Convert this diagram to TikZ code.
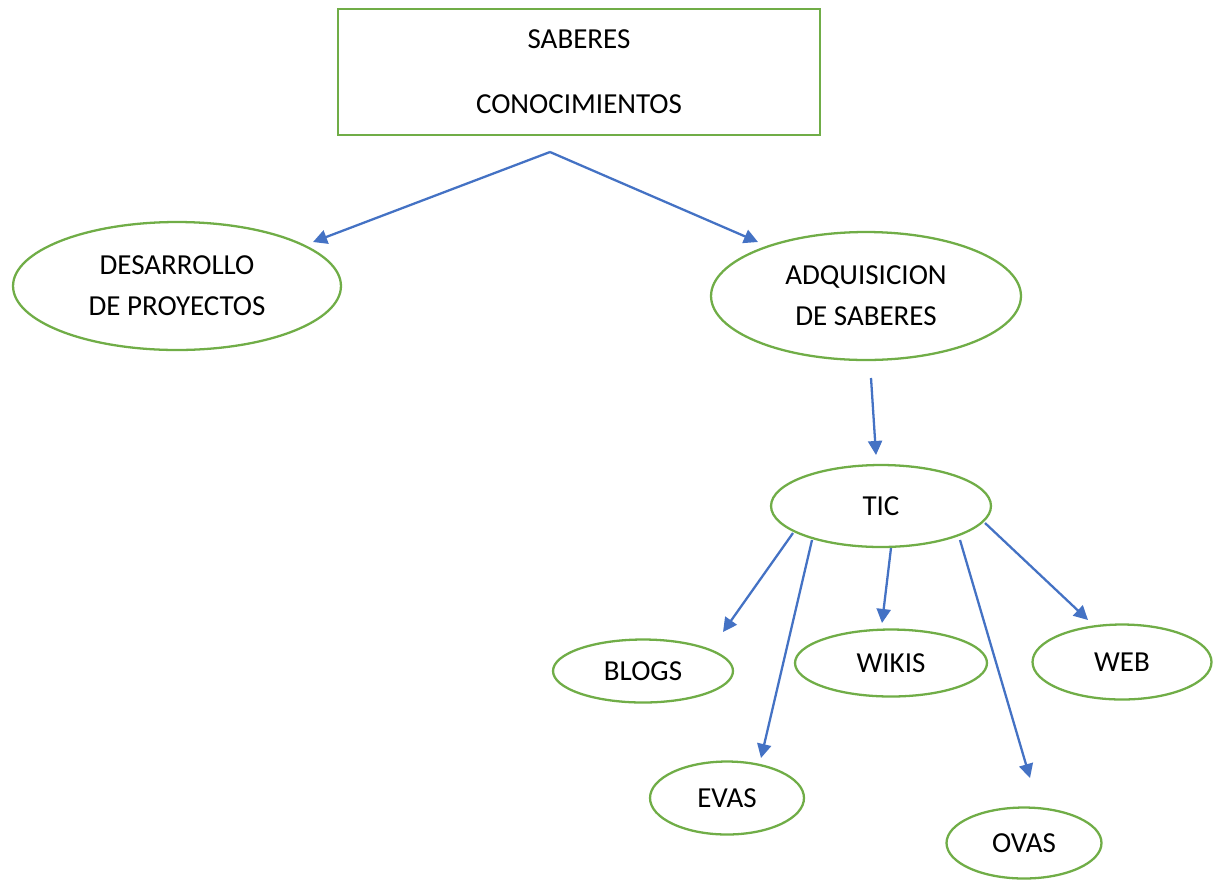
\documentclass[tikz,border=0pt]{standalone}
\usepackage{fontspec}
\setmainfont{Carlito}
\usetikzlibrary{shapes.geometric,arrows.meta}
\definecolor{verde}{HTML}{70AD47}
\definecolor{azul}{HTML}{4472C4}

\begin{document}
\begin{tikzpicture}[x=0.02cm, y=-0.02cm]
\tikzset{caja/.style={draw=verde, line width=1.3pt, rectangle, inner sep=0pt, align=center,
    font=\fontsize{16.5}{20}\selectfont},
  globo/.style={draw=verde, line width=1.3pt, ellipse, inner sep=0pt, align=center,
    font=\fontsize{16.5}{23.5}\selectfont},
  flecha/.style={draw=azul, line width=1.3pt, -{Triangle[length=8pt,width=8pt]}}}
\useasboundingbox (0,0) rectangle (1219,880);
\node[caja, minimum width=9.64cm, minimum height=2.52cm] (saberes) at (579,72) {SABERES\\[17pt]CONOCIMIENTOS};
\node[globo, minimum width=6.56cm, minimum height=2.56cm] (desarrollo) at (177,286) {DESARROLLO\\DE PROYECTOS};
\node[globo, minimum width=6.2cm, minimum height=2.56cm] (adquisicion) at (866,296) {ADQUISICION\\DE SABERES};
\node[globo, minimum width=4.4cm, minimum height=1.64cm] (tic) at (881,506) {TIC};
\node[globo, minimum width=3.6cm, minimum height=1.26cm] (blogs) at (643,671) {BLOGS};
\node[globo, minimum width=3.84cm, minimum height=1.34cm] (wikis) at (891,663) {WIKIS};
\node[globo, minimum width=3.58cm, minimum height=1.5cm] (web) at (1122,662) {WEB};
\node[globo, minimum width=3.08cm, minimum height=1.46cm] (evas) at (727,798) {EVAS};
\node[globo, minimum width=3.1cm, minimum height=1.42cm] (ovas) at (1024,843) {OVAS};
% puntas de las flechas
\coordinate (s0) at (550,152);
\coordinate (d1) at (313,242);
\coordinate (a1) at (758,242);
\coordinate (a0) at (871,378);
\coordinate (t1) at (876,455);
\coordinate (tb) at (793,533);
\coordinate (b1) at (723,632);
\coordinate (te) at (812,540);
\coordinate (e1) at (761,758);
\coordinate (tw) at (891,548);
\coordinate (w1) at (882,623);
\coordinate (to) at (960,540);
\coordinate (o1) at (1030,778);
\coordinate (tx) at (985,523);
\coordinate (x1) at (1088,620);
\draw[flecha] (s0) -- (d1);
\draw[flecha] (s0) -- (a1);
\draw[flecha] (a0) -- (t1);
\draw[flecha] (tb) -- (b1);
\draw[flecha] (te) -- (e1);
\draw[flecha] (tw) -- (w1);
\draw[flecha] (to) -- (o1);
\draw[flecha] (tx) -- (x1);
\end{tikzpicture}
\end{document}
